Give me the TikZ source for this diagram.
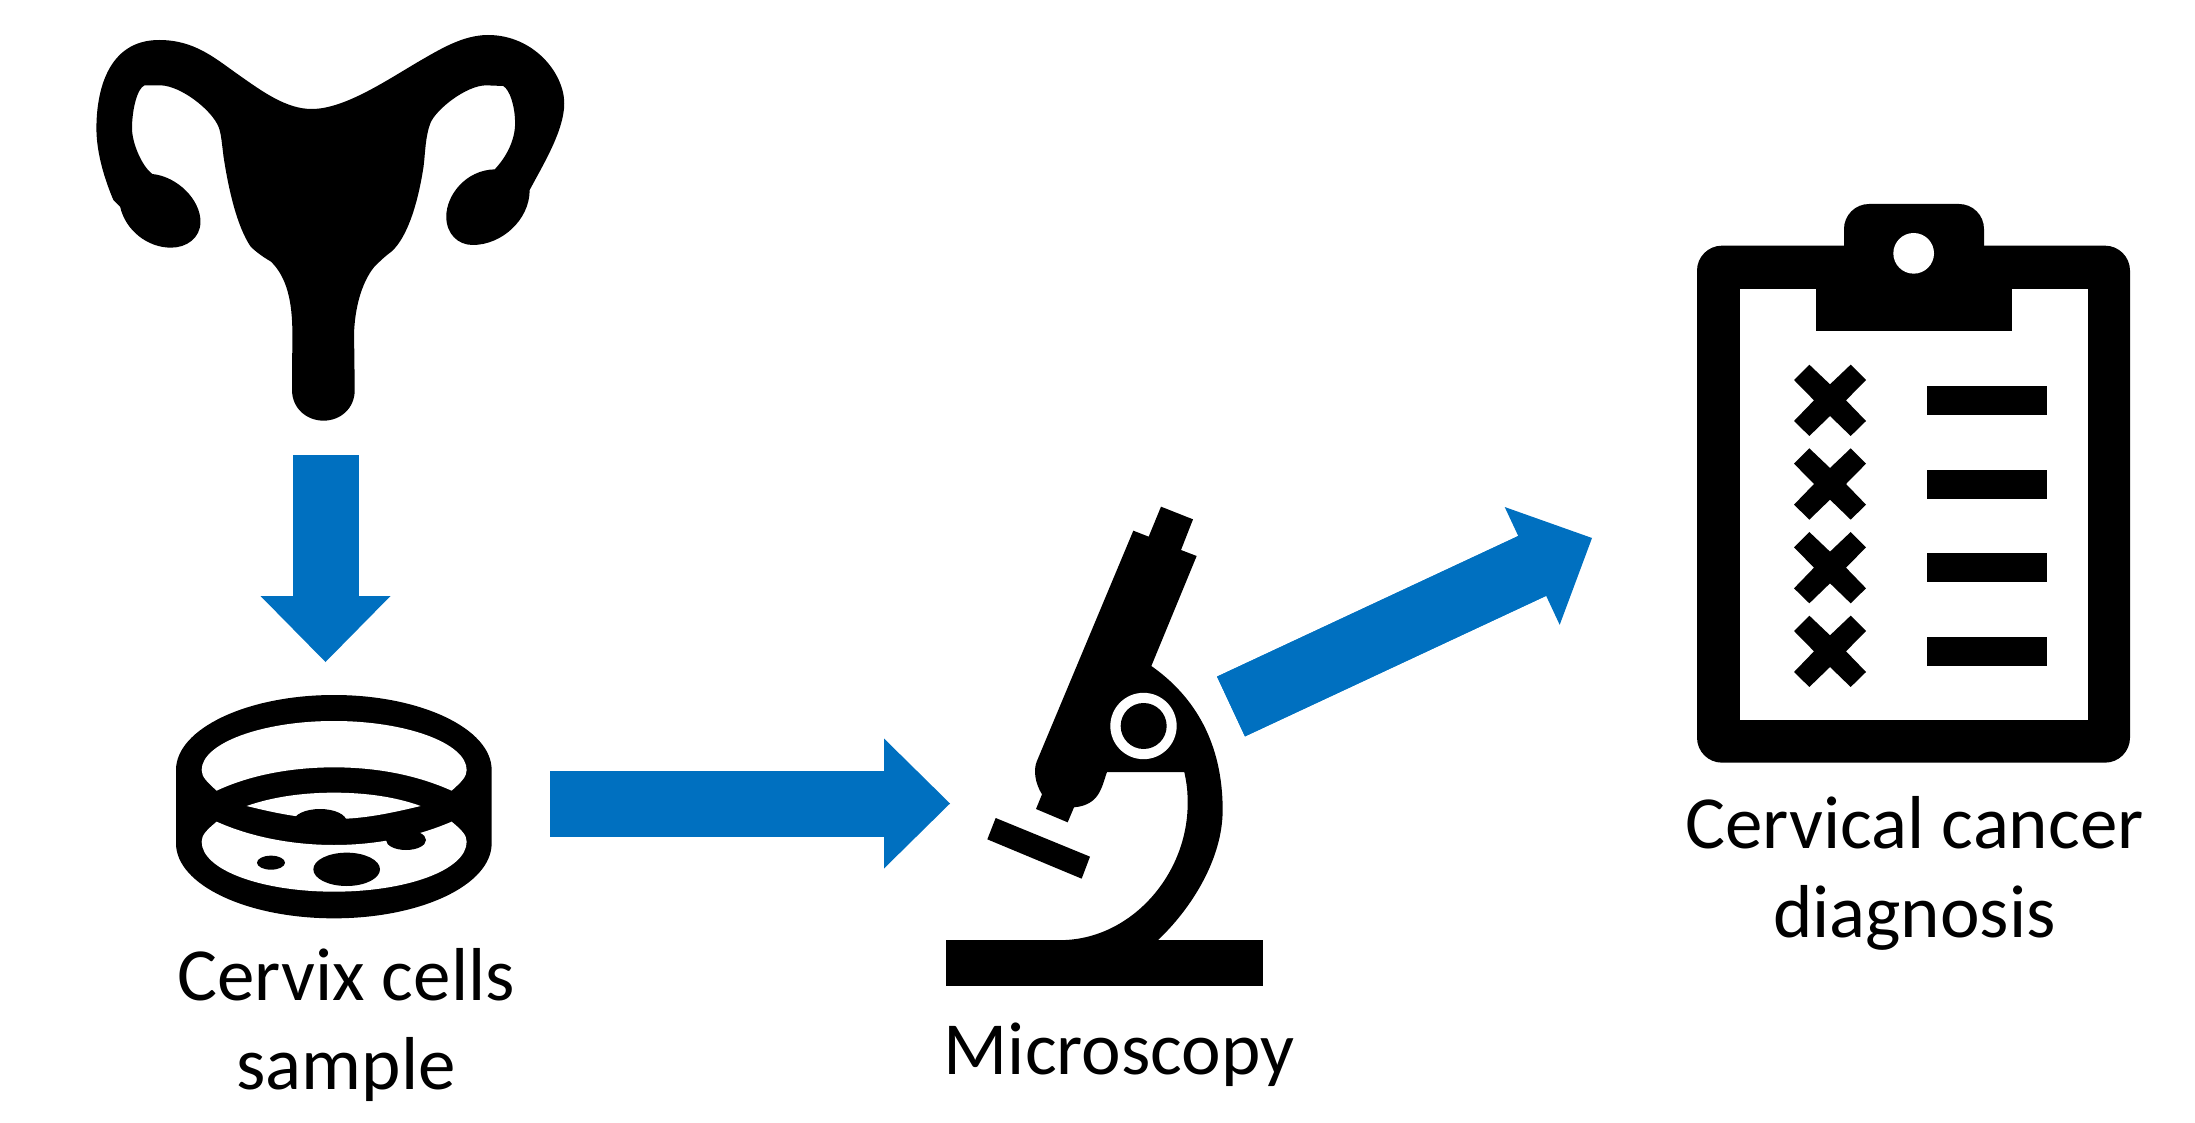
\documentclass[tikz,border=0pt]{standalone}
\usepackage{fontspec}
\setmainfont{Carlito}
\usetikzlibrary{arrows.meta}
\definecolor{flowblue}{HTML}{0070C0}

\begin{document}
\begin{tikzpicture}[x=1pt, y=-1pt]
        % Define styles for shapes
        \tikzstyle{ink} = [fill=black]
        \tikzstyle{hole} = [fill=white]
        \tikzstyle{caption} = [align=center, text=black, inner sep=0pt, font=\fontsize{75}{89}\selectfont]
        \tikzstyle{flow} = [draw=flowblue, line width=66pt, -{Triangle[length=66pt, width=130pt, line width=0pt, fill=flowblue]}, postaction={draw=flowblue, -, shorten >=60pt}]
        \useasboundingbox (0,0) rectangle (2195,1123);

        % Draw uterus
        \begin{scope}[shift={(69.3,0)}, xscale=0.339, yscale=0.33333]
            \fill[ink] (750,1262) .. controls (700,1262) and (657,1225) .. (657,1170) -- (658,1000)
                .. controls (658,900) and (640,830) .. (595,785) .. controls (570,770) and (550,755) .. (535,740)
                .. controls (495,680) and (470,570) .. (455,470) .. controls (450,430) and (448,400) .. (440,380)
                .. controls (420,330) and (330,258) .. (270,256) -- (222,256)
                .. controls (200,265) and (185,330) .. (185,385) .. controls (185,430) and (215,500) .. (245,522)
                .. controls (320,530) and (387,600) .. (387,665) .. controls (387,715) and (345,743) .. (300,743)
                .. controls (230,743) and (165,690) .. (150,620) -- (130,600)
                .. controls (105,540) and (80,460) .. (80,385) .. controls (80,280) and (110,120) .. (265,120)
                .. controls (370,120) and (430,175) .. (500,225) .. controls (570,275) and (640,327) .. (715,327)
                .. controls (810,327) and (930,245) .. (1030,185) .. controls (1090,150) and (1160,105) .. (1235,105)
                .. controls (1370,105) and (1460,220) .. (1460,310) .. controls (1460,390) and (1400,490) .. (1358,570)
                .. controls (1358,660) and (1275,735) .. (1190,735) .. controls (1145,735) and (1112,700) .. (1112,650)
                .. controls (1112,585) and (1170,510) .. (1255,508) .. controls (1290,470) and (1315,420) .. (1315,370)
                .. controls (1315,320) and (1300,270) .. (1280,258) -- (1230,256)
                .. controls (1170,256) and (1080,330) .. (1065,370) .. controls (1050,410) and (1050,460) .. (1045,500)
                .. controls (1030,600) and (1000,710) .. (950,755) .. controls (930,770) and (915,785) .. (900,800)
                .. controls (860,850) and (842,930) .. (840,1000) -- (842,1170)
                .. controls (842,1225) and (800,1262) .. (750,1262) -- cycle;
        \end{scope}

        % Draw dish
        \begin{scope}[shift={(150,670)}, scale=0.33333]
            \fill[ink] (78,300) .. controls (78,176) and (292,75) .. (552,75) .. controls (812,75) and (1025,176) .. (1025,300)
                -- (1025,520) .. controls (1025,645) and (812,745) .. (552,745) .. controls (292,745) and (78,645) .. (78,520) -- cycle;
            \fill[hole] (200,362) .. controls (170,335) and (155,320) .. (155,300) .. controls (155,220) and (335,153) .. (552,153)
                .. controls (770,153) and (950,220) .. (950,300) .. controls (950,320) and (935,335) .. (905,362)
                .. controls (800,315) and (680,292) .. (552,292) .. controls (425,292) and (300,315) .. (200,362) -- cycle;
            \fill[hole] (290,408) .. controls (370,380) and (460,368) .. (552,368) .. controls (645,368) and (735,380) .. (812,408)
                .. controls (720,430) and (640,447) .. (552,447) .. controls (460,447) and (380,430) .. (290,408) -- cycle;
            \fill[hole] (200,455) .. controls (300,500) and (425,525) .. (552,525) .. controls (680,525) and (800,500) .. (905,455)
                .. controls (935,480) and (950,495) .. (950,515) .. controls (950,600) and (770,665) .. (552,665)
                .. controls (335,665) and (155,600) .. (155,515) .. controls (155,495) and (170,480) .. (200,455) -- cycle;
            \fill[ink] (510,455) ellipse [x radius=80, y radius=38];
            \fill[ink] (768,510) ellipse [x radius=60, y radius=30];
            \fill[ink] (590,598) ellipse [x radius=100, y radius=50];
            \fill[ink] (363,578) ellipse [x radius=42, y radius=21];
        \end{scope}

        % Draw microscope
        \begin{scope}[shift={(920,490)}, scale=0.33333]
            \fill[ink] (78,1350) rectangle (1029,1488);
            \fill[ink] (227,984) -- (510,1100) -- (485,1166) -- (202,1048) -- cycle;
            \fill[ink] (694,528) .. controls (825,620) and (908,760) .. (908,960) .. controls (908,1110) and (810,1260) .. (714,1350)
                -- (714,1360) -- (437,1360) -- (437,1350) .. controls (640,1340) and (803,1150) .. (803,940) .. controls (803,900) and (800,880) .. (793,846)
                -- (561,846) .. controls (545,890) and (540,945) .. (462,952) -- (443,997) -- (348,957) -- (366,913)
                .. controls (345,880) and (340,840) .. (350,815) -- (640,122) -- (686,140) -- (723,50) -- (819,88) -- (783,180) -- (830,198) -- cycle;
            \fill[hole] (670.5,708) circle (99.5);
            \fill[ink] (671,708) circle (69);
        \end{scope}

        % Draw clipboard
        \begin{scope}[shift={(1680,190)}, scale=0.33333]
            \fill[ink, rounded corners=25pt] (51,167) rectangle (1350,1718);
            \fill[ink, rounded corners=25pt] (492,42) rectangle (912,300);
            \fill[hole] (180,297) rectangle (1224,1590);
            \fill[ink] (408,280) rectangle (996,423);
            \fill[hole] (701,190) circle (61);
            \foreach \rowy in {0,1,2,3} {
                \begin{scope}[shift={(0,251*\rowy)}]
                    \fill[ink] (741,588) rectangle (1101,675);
                    \fill[ink] (388,524) -- (450,583) -- (512,524) -- (558,570) -- (498,631) -- (558,693) -- (512,738)
                        -- (450,678) -- (388,738) -- (342,693) -- (402,631) -- (342,570) -- cycle;
                \end{scope}
            }
        \end{scope}

        % Draw labels
        \node[caption, anchor=base] (samplelabel) at (346,1089) {Cervix cells\\sample};
        \node[caption, anchor=base] (microscopylabel) at (1119,1074) {Microscopy};
        \node[caption, anchor=base] (diagnosislabel) at (1914.5,937) {Cervical cancer\\diagnosis};

        % Draw arrows
        \coordinate (uterusout) at (325.5,455);
        \coordinate (dishin) at (325.5,662);
        \coordinate (dishout) at (550,803.5);
        \coordinate (microscopein) at (950,803.5);
        \coordinate (microscopeout) at (1231,706.5);
        \coordinate (clipboardin) at (1592,538);
        \draw[flow] (uterusout) -- (dishin);
        \draw[flow] (dishout) -- (microscopein);
        \draw[flow] (microscopeout) -- (clipboardin);
    \end{tikzpicture}
\end{document}
